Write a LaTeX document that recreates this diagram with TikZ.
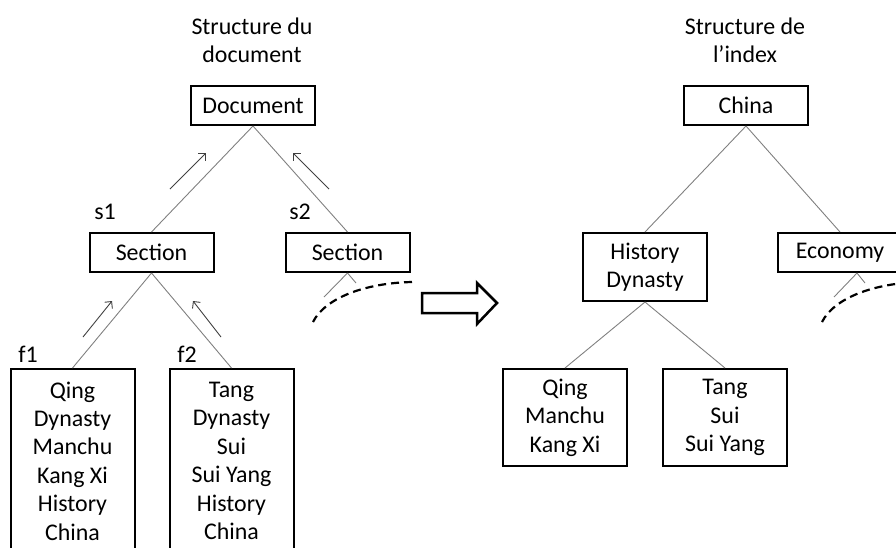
\documentclass[tikz,border=0pt]{standalone}
\usepackage{fontspec}
\setmainfont{Carlito}
\usetikzlibrary{arrows.meta}
\tikzset{
 txt/.style={font=\fontsize{23.9}{28.4}\selectfont, inner sep=0pt, align=center},
 box/.style={txt, draw=black, line width=2pt, minimum width=124pt},
 conn/.style={draw=black!50, line width=0.9pt},
 flow/.style={draw=black!75, line width=0.9pt, -{Straight Barb[length=5pt,width=10pt]}},
 more/.style={draw=black, line width=2.2pt, dash pattern=on 8pt off 5pt},
 bigarrow/.style={draw=black, line width=2.5pt, fill=white, line join=miter},
}
\begin{document}
\begin{tikzpicture}[x=1pt,y=-1pt]
\useasboundingbox (0,0) rectangle (896,547);
% titles
\node[txt] (t1) at (252,40) {Structure du\\document};
\node[txt] (t2) at (745,40) {Structure de\\l’index};
% left tree
\node[box, minimum height=39pt] (doc) at (253,105.5) {Document};
\node[box, minimum height=39pt] (sec1) at (151.5,252.5) {Section};
\node[box, minimum height=39pt] (sec2) at (347.5,252.5) {Section};
\node[box, minimum height=184pt] (f1) at (72.5,461) {Qing\\Dynasty\\Manchu\\Kang Xi\\History\\China};
\node[box, minimum height=184pt] (f2) at (231.5,461) {Tang\\Dynasty\\Sui\\Sui Yang\\History\\China};
\node[txt] (ls1) at (105,212) {s1};
\node[txt] (ls2) at (300,212) {s2};
\node[txt] (lf1) at (28,354) {f1};
\node[txt] (lf2) at (187,354) {f2};
\draw[conn] (doc.south) -- (sec1.north);
\draw[conn] (doc.south) -- (sec2.north);
\draw[conn] (sec1.south) -- (f1.north);
\draw[conn] (sec1.south) -- (f2.north);
\coordinate (s2a) at (324,297);
\coordinate (s2b) at (356,283);
\draw[conn] (sec2.south) -- (s2a);
\draw[conn] (sec2.south) -- (s2b);
\coordinate (d1s) at (412,282);
\coordinate (d1e) at (313,322);
\draw[more] (d1s) .. controls (365,283) and (325,298) .. (d1e);
% flow arrows
\coordinate (a1s) at (170,189); \coordinate (a1e) at (206,153);
\coordinate (a2s) at (329,189); \coordinate (a2e) at (293,153);
\coordinate (a3s) at (83,337);  \coordinate (a3e) at (112,301);
\coordinate (a4s) at (221,337); \coordinate (a4e) at (193,301);
\draw[flow] (a1s) -- (a1e);
\draw[flow] (a2s) -- (a2e);
\draw[flow] (a3s) -- (a3e);
\draw[flow] (a4s) -- (a4e);
% big arrow
\draw[bigarrow] (422,293) -- (477,293) -- (477,283) -- (497,303) -- (477,324) -- (477,313) -- (422,313) -- cycle;
% right tree
\node[box, minimum height=39pt] (china) at (746,105.5) {China};
\node[box, minimum height=68pt] (hd) at (645,267) {History\\Dynasty};
\node[box, minimum height=39pt] (eco) at (840,252.5) {Economy};
\node[box, minimum height=97pt] (qing) at (565,417.5) {Qing\\Manchu\\Kang Xi};
\node[box, minimum height=97pt] (tang) at (725,417.5) {Tang\\Sui\\Sui Yang};
\draw[conn] (china.south) -- (hd.north);
\draw[conn] (china.south) -- (eco.north);
\draw[conn] (hd.south) -- (qing.north);
\draw[conn] (hd.south) -- (tang.north);
\coordinate (ebot) at ([xshift=17pt]eco.south);
\coordinate (ea) at (834,297);
\coordinate (eb) at (865,283);
\draw[conn] (ebot) -- (ea);
\draw[conn] (ebot) -- (eb);
\coordinate (d2s) at (921,282);
\coordinate (d2e) at (822,322);
\draw[more] (d2s) .. controls (874,283) and (834,298) .. (d2e);
\end{tikzpicture}
\end{document}
